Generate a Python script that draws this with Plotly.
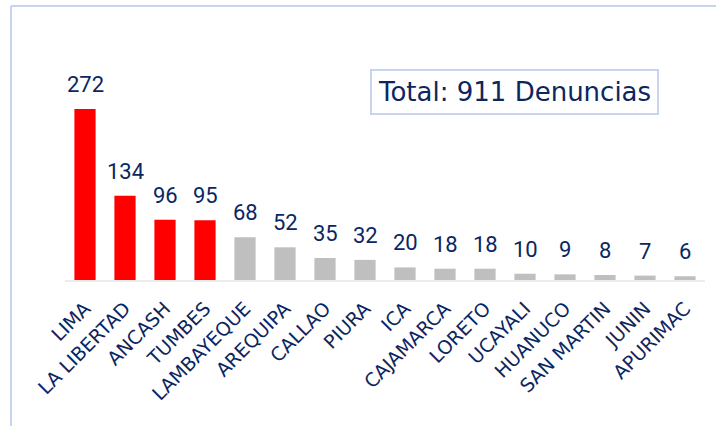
import plotly.graph_objects as go

categories = ["LIMA", "LA LIBERTAD", "ANCASH", "TUMBES", "LAMBAYEQUE", "AREQUIPA",
              "CALLAO", "PIURA", "ICA", "CAJAMARCA", "LORETO", "UCAYALI",
              "HUANUCO", "SAN MARTIN", "JUNIN", "APURIMAC"]
values = [272, 134, 96, 95, 68, 52, 35, 32, 20, 18, 18, 10, 9, 8, 7, 6]
highlight_count = 4
total_label = "Total: 911 Denuncias"

RED = "#ff0000"
GRAY = "#bfbfbf"
NAVY = "#0c2660"
FRAME = "#c6d4ef"

colors = [RED if i < highlight_count else GRAY for i in range(len(values))]

fig = go.Figure()
fig.add_trace(go.Bar(x=categories, y=values, marker=dict(color=colors, line=dict(width=0)),
                     hoverinfo="skip"))

annotations = []
for c, v in zip(categories, values):
    annotations.append(dict(x=c, y=v, xref="x", yref="y", text=str(v), showarrow=False,
                            yanchor="bottom", yshift=10,
                            font=dict(family="Roboto", size=22, color=NAVY)))
annotations.append(dict(x=0.703, y=0.754, xref="paper", yref="paper", text=total_label,
                        showarrow=False, xanchor="center", yanchor="middle",
                        font=dict(family="DejaVu Sans", size=26, color=NAVY),
                        bordercolor=FRAME, borderwidth=2, borderpad=6, bgcolor="white"))

W, H = 716, 426
L, R, T, B = 65, 11, 30, 146
pw, ph = W - L - R, H - T - B

def px(x):
    return (x - L) / pw

def py(y):
    return (H - B - y) / ph

shapes = [
    dict(type="line", xref="paper", yref="paper", x0=px(11), x1=px(720), y0=py(6), y1=py(6),
         line=dict(color=FRAME, width=2)),
    dict(type="line", xref="paper", yref="paper", x0=px(11), x1=px(11), y0=py(6), y1=py(430),
         line=dict(color=FRAME, width=2)),
]

fig.update_layout(
    width=W, height=H,
    margin=dict(l=L, r=R, t=T, b=B, autoexpand=False),
    paper_bgcolor="white", plot_bgcolor="white",
    bargap=0.47,
    showlegend=False,
    annotations=annotations,
    shapes=shapes,
    xaxis=dict(showline=True, linecolor="#ececec", linewidth=2, ticks="", showgrid=False,
               automargin=False, ticklabelstandoff=8,
               tickangle=-45, tickfont=dict(family="DejaVu Sans", size=19, color=NAVY),
               range=[-0.5, len(categories) - 0.5], fixedrange=True),
    yaxis=dict(visible=False, range=[0, 272 * 250 / 171], showgrid=False, zeroline=False),
)

fig.write_html("out.html", config={"displayModeBar": False, "staticPlot": True},
               post_script="document.body.style.margin='0';document.body.style.overflow='hidden';")
